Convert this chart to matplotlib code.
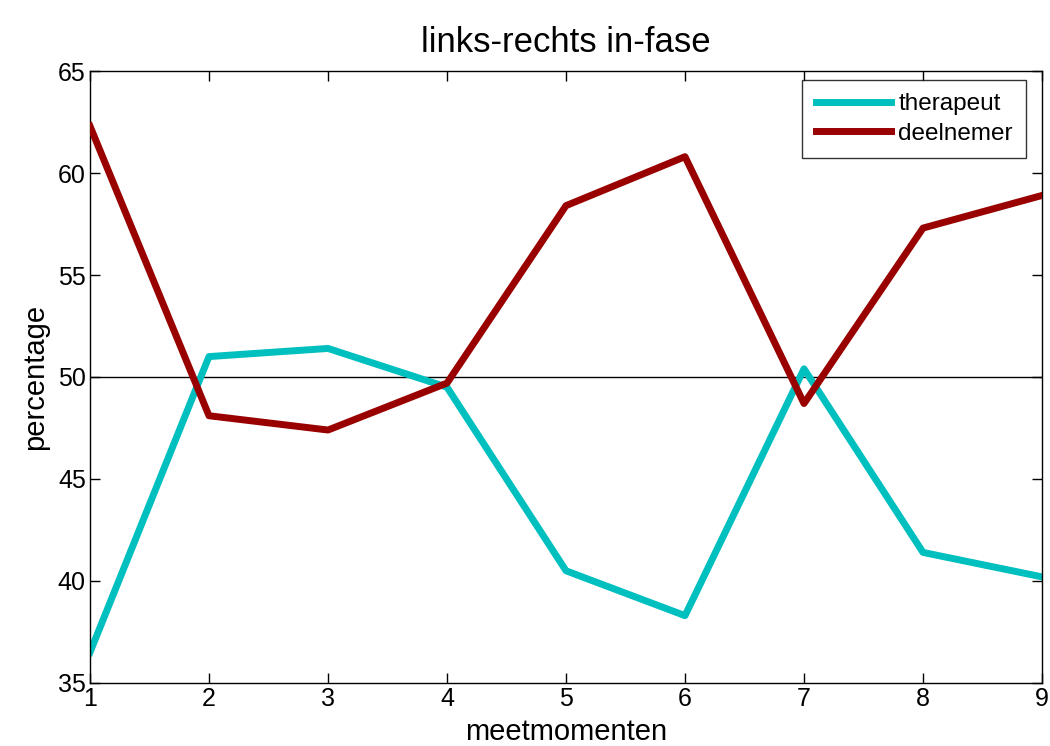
import matplotlib
matplotlib.use('Agg')
import matplotlib.pyplot as plt

# meetmomenten en percentages
meetmomenten = [1, 2, 3, 4, 5, 6, 7, 8, 9]
therapeut = [36.5, 51.0, 51.4, 49.5, 40.5, 38.3, 50.4, 41.4, 40.2]
deelnemer = [62.3, 48.1, 47.4, 49.7, 58.4, 60.8, 48.7, 57.3, 58.9]
y_ticks = [35, 40, 45, 50, 55, 60, 65]

plt.rcParams['font.family'] = ['Liberation Sans', 'DejaVu Sans']

fig = plt.figure(figsize=(10.5, 7.46), dpi=100)
ax = fig.add_axes([0.0857, 0.0845, 0.9067, 0.8203])

ax.axhline(50, color='black', linewidth=1.0, zorder=1)
ax.plot(meetmomenten, therapeut, color='#00BFBF', linewidth=5, label='therapeut', zorder=2)
ax.plot(meetmomenten, deelnemer, color='#990000', linewidth=5, label='deelnemer', zorder=3)

ax.set_xlim(1, 9)
ax.set_ylim(35, 65)
ax.set_xticks(meetmomenten)
ax.set_yticks(y_ticks)
ax.tick_params(direction='in', length=7, width=1, top=True, right=True, labelsize=18, pad=3)
for s in ax.spines.values():
    s.set_linewidth(1.0)

ax.set_title('links-rechts in-fase', fontsize=25, pad=14)
ax.set_xlabel('meetmomenten', fontsize=21, labelpad=5)
ax.set_ylabel('percentage', fontsize=21, labelpad=6)

leg = ax.legend(loc='upper right', fontsize=17.5, frameon=True, fancybox=False,
                edgecolor='black', handlelength=3.1, borderaxespad=0,
                labelspacing=0.3, handletextpad=0.3, borderpad=0.55,
                bbox_to_anchor=(0.9832, 0.9853))
leg.get_frame().set_linewidth(1.0)

fig.savefig('out.png', dpi=100)
